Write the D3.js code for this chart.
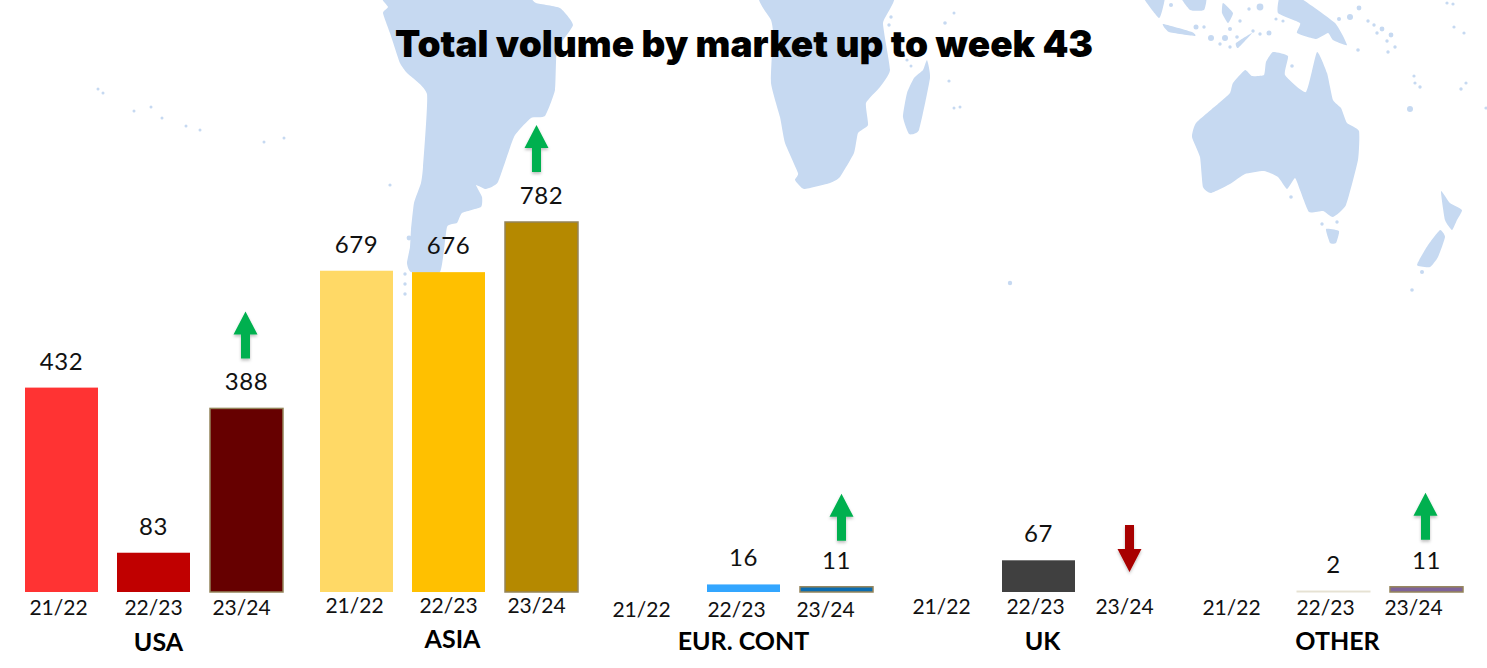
<!DOCTYPE html>
<html>
<head>
<meta charset="utf-8">
<script src="https://cdn.jsdelivr.net/npm/d3@7"></script>
<style>
  body { margin: 0; background: #fff; }
  svg { display: block; font-family: Lato, sans-serif; }
</style>
</head>
<body>
<div id="chart"></div>
<script>
const markets = ["USA", "ASIA", "EUR. CONT", "UK", "OTHER"];
const seasons = ["21/22", "22/23", "23/24"];
const values2122 = [432, 679, null, null, null];
const values2223 = [83, 676, 16, 67, 2];
const values2324 = [388, 782, 11, null, 11];
const trend = ["up", "up", "up", "down", "up"];

const fills2122 = ["#ff3333", "#ffd966", "none", "none", "none"];
const fills2223 = ["#c00000", "#ffc000", "#33a6ff", "#404040", "#f4f1e6"];
const fills2324 = ["#660000", "#b58900", "#0b6cb0", "none", "#7f6399"];

// hand placed nudges, the source slide was not aligned
const tickShift = [[-3, 0, -4], [-2, 0, -4], [-10, -7, -10], [-5, -3, -6], [-10, -8, -12]];
const tickY = [608, 606, 610, 607, 608];
const nameShift = [5, 4, 0, 4, 4];
const nameY = [642, 639, 641, 641, 641];
const arrowShift = [0, -4, 6, -1, 0];
const arrowLift = [97, 97, 93, 67, 94];

// world map behind the bars
const southAmerica = [[385,-6],[388,7],[383,13],[390,33],[400,63],[407,73],[427,94],[423,167],[421,183],[414,203],[411,230],[410,247],[407,263],[411,272],[440,272],[447,227],[457,223],[462,213],[481,207],[482,197],[476,185],[486,189],[498,182],[514,137],[531,118],[545,116],[555,90],[557,50],[573,25],[560,8],[536,3],[519,-6]];
const africa = [[761,-6],[771,20],[773,33],[771,83],[780,117],[785,143],[798,173],[795,180],[804,189],[830,183],[840,177],[854,153],[858,133],[868,125],[866,103],[880,87],[890,70],[883,23],[892,-6]];
const madagascar = [[927,60],[930,78],[919,130],[909,134],[903,117],[907,93],[914,78],[923,70]];
const australia = [[1273,52],[1288,56],[1285,75],[1306,92],[1317,52],[1327,73],[1333,100],[1341,108],[1347,123],[1359,131],[1358,160],[1346,205],[1333,217],[1323,211],[1309,212],[1300,190],[1295,178],[1287,189],[1278,177],[1264,171],[1245,174],[1230,184],[1211,193],[1203,187],[1200,157],[1192,137],[1196,123],[1219,103],[1230,93],[1233,83],[1245,70],[1252,76],[1264,75],[1266,62]];
const tasmania = [[1326,229],[1339,231],[1336,243],[1330,243]];
const nzNorth = [[1441,191],[1450,203],[1462,210],[1457,220],[1452,230],[1445,220]];
const nzSouth = [[1440,230],[1445,237],[1438,257],[1430,267],[1417,265],[1428,245]];
const newGuinea = [[1297,-4],[1335,23],[1347,45],[1333,40],[1328,33],[1316,39],[1297,33],[1300,23],[1278,13],[1280,-4]];
const java = [[1163,24],[1192,32],[1195,36],[1169,32]];
const sumatra = [[1142,-5],[1164,-5],[1164,3],[1159,18]];
const borneo = [[1180,-5],[1206,-5],[1204,10],[1190,10]];
const sulawesi = [[1223,3],[1233,13],[1228,23],[1222,13]];
const timor = [[1252,33],[1238,48],[1236,43]];
const landShapes = [southAmerica, africa, madagascar, australia, tasmania, nzNorth, nzSouth, newGuinea, java, sumatra, borneo, sulawesi, timor];
const islands = [[98,89,1.5],[103,93,1.5],[134,111,1.5],[151,107,1.5],[162,118,1.5],[186,126,1.5],[200,130,1.5],[264,142,1.5],[284,138,1.5],[390,185,1.6],[409,238,2.4],[405,274,1.7],[405,284,1.7],[405,294,1.7],
  [891,17,1.7],[889,25,1.7],[954,13,1.5],[945,23,1.8],[949,81,1.6],[954,108,1.5],[960,107,1.5],[907,60,1.6],[911,66,1.5],[1010,283,2.2],[1422,272,2],[1412,290,1.8],
  [1171,5,2],[1196,27,2.5],[1204,27,1.7],[1211,38,3],[1225,38,3],[1237,37,1.8],[1230,29,2],[1253,31,1.7],[1260,34,1.7],[1269,33,2.5],[1220,44,1.7],[1230,47,1.7],[1276,19,1.6],[1283,21,1.6],[1240,21,1.7],[1249,9,1.7],[1260,7,3.4],
  [1339,19,2],[1350,17,3],[1359,8,2.4],[1368,21,1.7],[1374,25,1.7],[1382,29,2.4],[1377,33,1.7],[1391,35,2.4],[1387,41,1.7],[1395,47,1.7],[1388,52,1.7],[1358,50,1.8],[1454,27,1.6],[1464,33,1.6],[1447,3,1.6],[1453,4,1.6],
  [1414,76,1.6],[1415,83,1.6],[1420,87,1.7],[1466,83,1.6],[1461,89,1.7],[1410,109,3],[1486,108,1.6],[1292,66,1.8],[1291,197,1.8],[1322,224,1.7],[1337,222,1.7]];

const width = 1487, height = 668;

const svg = d3.select("#chart")
  .append("svg")
  .attr("width", width)
  .attr("height", height);

const defs = svg.append("defs");
defs.append("filter")
  .attr("id", "arrow-shadow")
  .append("feDropShadow")
  .attr("dx", 0)
  .attr("dy", 2)
  .attr("stdDeviation", 1.5)
  .attr("flood-color", "#000")
  .attr("flood-opacity", 0.25);

// background map
const land = d3.line().curve(d3.curveCardinalClosed.tension(0.55));
svg.append("g")
  .selectAll("path")
  .data(landShapes)
  .join("path")
  .attr("fill", "#c6d9f1")
  .attr("d", land);

svg.append("g")
  .selectAll("circle")
  .data(islands)
  .join("circle")
  .attr("fill", "#c6d9f1")
  .attr("cx", d => d[0])
  .attr("cy", d => d[1])
  .attr("r", d => d[2]);

svg.append("text")
  .attr("x", 744)
  .attr("y", 57)
  .attr("text-anchor", "middle")
  .style("font-family", "Inter, sans-serif")
  .style("font-size", "37px")
  .style("font-weight", 900)
  .style("fill", "#000")
  .text("Total volume by market up to week 43");

// one band per market, three bars inside it
const x0 = d3.scaleBand().domain(markets).range([25, 1500]);
const x1 = d3.scaleBand().domain(seasons).range([0, 257]).paddingInner(19 / 92);
const y = d3.scaleLinear().domain([0, 782]).range([592, 222]);

const seriesValues = [values2122, values2223, values2324];
const seriesFills = [fills2122, fills2223, fills2324];
const borders = { "23/24": "#94845a" };

const groups = svg.append("g")
  .selectAll("g")
  .data(markets)
  .join("g")
  .attr("transform", d => `translate(${x0(d)},0)`);

groups.each(function (market, m) {
  const g = d3.select(this);
  const rows = seasons
    .map((season, s) => ({ season, value: seriesValues[s][m], fill: seriesFills[s][m] }))
    .filter(d => d.value !== null);

  g.selectAll("rect")
    .data(rows)
    .join("rect")
    .attr("x", d => x1(d.season) + (borders[d.season] ? 1 : 0))
    .attr("y", d => y(d.value))
    .attr("width", x1.bandwidth())
    .attr("height", d => y(0) - y(d.value))
    .attr("fill", d => d.fill)
    .attr("stroke", d => borders[d.season] || (d.value === 2 ? "#e6e2d3" : "none"))
    .attr("stroke-width", d => (borders[d.season] ? 1.5 : 1));

  g.selectAll(".value")
    .data(rows)
    .join("text")
    .attr("class", "value")
    .attr("x", d => x1(d.season) + x1.bandwidth() / 2 + (borders[d.season] ? 1 : 0))
    .attr("y", d => y(d.value) - 18)
    .attr("text-anchor", "middle")
    .style("font-size", "24px")
    .style("letter-spacing", "0.6px")
    .style("fill", "#111")
    .text(d => d.value);

  const axis = g.append("g")
    .attr("transform", `translate(0,${tickY[m] - 10})`)
    .call(d3.axisBottom(x1).tickSize(0).tickPadding(0));
  axis.select(".domain").remove();
  axis.selectAll("text")
    .attr("dx", (d, i) => tickShift[m][i])
    .attr("y", 0)
    .attr("dy", 17)
    .style("font-family", "Lato, sans-serif")
    .style("font-size", "21px")
    .style("fill", "#111");

  g.append("text")
    .attr("x", x1("22/23") + x1.bandwidth() / 2 + nameShift[m])
    .attr("y", nameY[m] + 9)
    .attr("text-anchor", "middle")
    .style("font-size", "25px")
    .style("font-weight", 700)
    .style("fill", "#000")
    .text(market);

  // trend arrow above the 23/24 bar
  const cx = x1("23/24") + x1.bandwidth() / 2 + arrowShift[m];
  const top = y(values2324[m] || 0) - arrowLift[m];
  const up = trend[m] === "up";
  const tipY = up ? top : top + 47;
  const tailY = up ? top + 47 : top;
  const neckY = up ? tipY + 23 : tipY - 23;
  const arrow = d3.path();
  arrow.moveTo(cx, tipY);
  arrow.lineTo(cx + 12, neckY);
  arrow.lineTo(cx + 4.5, neckY);
  arrow.lineTo(cx + 4.5, tailY);
  arrow.lineTo(cx - 4.5, tailY);
  arrow.lineTo(cx - 4.5, neckY);
  arrow.lineTo(cx - 12, neckY);
  arrow.closePath();
  g.append("path")
    .attr("d", arrow.toString())
    .attr("fill", up ? "#00b050" : "#a80000")
    .attr("filter", "url(#arrow-shadow)");
});
</script>
</body>
</html>
